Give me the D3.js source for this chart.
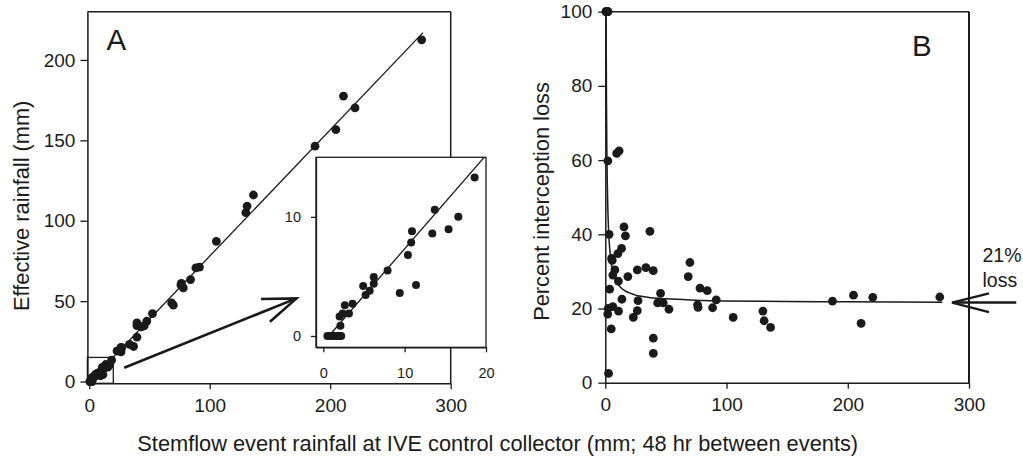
<!DOCTYPE html>
<html><head><meta charset="utf-8">
<script src="https://cdn.jsdelivr.net/npm/d3@7"></script>
<style>
html,body{margin:0;padding:0;background:#fff;}
svg{display:block;font-family:"Liberation Sans",Arial,Helvetica,sans-serif;}
</style></head>
<body><svg id="c" width="1023" height="458"></svg>
<script>
// ---- data (one entry per rain event) ----
const stemflow = [275.9,220.6,211.0,204.7,187.4,136.3,131.0,130.0,105.5,91.5,88.5,84.1,78.1,76.1,76.5,69.8,68.4,52.5,47.8,45.6,43.2,39.6,39.6,39.6,36.8,33.5,26.4,27.0,26.4,23.1,
  18.6,13.7,16.6,15.4,13.4,10.9,10.8,10.4,7.9,11.4,9.4,6.2,6.2,5.7,5.2,4.9,3.6,2.65,3.15,2.37,2.0,2.1,
  0.5,0.8,1.1,1.4,1.7,2.0,2.2];
const effective = [212.5,170.2,177.5,156.6,146.4,116.0,109.1,105.0,87.2,71.2,70.7,63.4,58.2,60.1,61.0,47.5,48.9,42.2,37.6,34.6,34.0,27.6,34.8,36.5,21.8,23.1,18.4,21.0,21.3,19.0,
  13.3,10.6,10.0,8.95,8.6,8.8,7.85,6.8,5.5,4.27,3.6,4.95,4.38,3.8,3.45,4.2,2.7,2.58,1.88,1.88,1.63,0.85,
  0,0,0,0,0,0,0];
const lossPct = [23.1,23.0,16.0,23.6,22.0,14.9,16.7,19.3,17.6,22.3,20.2,24.8,25.5,21.0,20.3,32.4,28.6,19.8,21.5,24.1,21.5,30.2,12.0,7.9,40.8,31.0,30.4,22.1,19.4,17.6,
  28.6,22.5,39.6,42.0,36.2,19.3,27.4,34.8,30.4,62.5,61.8,20.5,29.0,33.0,33.5,14.5,25.2,2.5,40.0,20.0,18.5,59.8,
  100,100,100,100,100,100,100];
// fitted regression line (panel A) and fitted loss curve (panel B)
const fitLineX = [0.68, 277];
const fitLineY = [0, 217];
const curveX = [0.68,0.8,1,1.3,1.6,2,2.5,3,4,5,6,8,10,13,16,20,25,30,40,50,70,100,150,200,278];
const curveY = [100,87.7,74.5,62.2,54.6,48,42.7,39.2,34.8,32.1,30.3,28.1,26.8,25.6,24.8,24.2,23.6,23.3,22.8,22.6,22.3,22.0,21.9,21.8,21.7];
// ticks
const aXTicks = [0,100,200,300], aYTicks = [0,50,100,150,200];
const inXTicks = [0,10,20], inYTicks = [0,10];
const bXTicks = [0,100,200,300], bYTicks = [0,20,40,60,80,100];
const xTitle = "Stemflow event rainfall at IVE control collector (mm; 48 hr between events)";
const aYTitle = "Effective rainfall (mm)";
const bYTitle = "Percent interception loss";

const svg = d3.select("#c");
const ink = "#1a1a1a";
const events = stemflow.map((x,i)=>({x, e:effective[i], p:lossPct[i]}));

function styleAxis(g, fs){
  g.select(".domain").attr("stroke", ink).attr("stroke-width", 1.5);
  g.selectAll(".tick line").attr("stroke", ink).attr("stroke-width", 1.3);
  g.selectAll(".tick text").attr("fill", ink).attr("font-size", fs).attr("font-family","Liberation Sans, Arial, sans-serif");
}

// ---------- Panel A ----------
const ax = d3.scaleLinear().domain([-1.5,300]).range([87.4,450.7]);
const ay = d3.scaleLinear().domain([-1.1,230]).range([383.3,11.7]);
const A = svg.append("g");
A.append("line").attr("x1",ax.range()[0]).attr("x2",ax.range()[1]).attr("y1",ay.range()[1]).attr("y2",ay.range()[1]).attr("stroke",ink).attr("stroke-width",1.5);
A.append("line").attr("x1",ax.range()[1]).attr("x2",ax.range()[1]).attr("y1",ay.range()[1]).attr("y2",ay.range()[0]).attr("stroke",ink).attr("stroke-width",1.5);
A.append("g").attr("transform",`translate(0,${ay.range()[0]})`)
  .call(d3.axisBottom(ax).tickValues(aXTicks).tickSize(6).tickSizeOuter(0).tickPadding(9)).call(g=>styleAxis(g,19));
A.append("g").attr("transform",`translate(${ax.range()[0]},0)`)
  .call(d3.axisLeft(ay).tickValues(aYTicks).tickSize(7).tickSizeOuter(0).tickPadding(5)).call(g=>styleAxis(g,19));
A.append("line").attr("x1",ax(fitLineX[0])).attr("y1",ay(fitLineY[0])).attr("x2",ax(fitLineX[1])).attr("y2",ay(fitLineY[1]))
  .attr("stroke",ink).attr("stroke-width",1.3);
A.append("g").selectAll("circle").data(events).join("circle")
  .attr("cx",d=>ax(d.x)).attr("cy",d=>ay(d.e)).attr("r",4.4).attr("fill",ink);
// zoom box
A.append("rect").attr("x",ax(-1.5)).attr("y",ay(15)).attr("width",ax(20)-ax(-1.5)).attr("height",ay(-1.1)-ay(15))
  .attr("fill","none").attr("stroke",ink).attr("stroke-width",1.3);
// arrow to inset
const arr = A.append("g").attr("stroke",ink).attr("stroke-width",2.6).attr("fill","none").attr("stroke-linecap","butt");
arr.append("line").attr("x1",ax(29)).attr("y1",ay(8.6)).attr("x2",ax(172)).attr("y2",ay(51.7));
arr.append("polyline").attr("points",[[ax(142.5),ay(51.3)],[ax(172),ay(51.7)],[ax(150),ay(37.2)]].map(p=>p.join(",")).join(" "));
A.append("text").attr("x",106.5).attr("y",50).attr("font-size",29.5).attr("fill",ink).text("A");

// ---------- Inset ----------
const ix = d3.scaleLinear().domain([-0.9,20]).range([316,486]);
const iy = d3.scaleLinear().domain([-0.95,15]).range([347.3,157.3]);
const I = svg.append("g");
I.append("rect").attr("x",316).attr("y",157.3).attr("width",ix.range()[1]-ix.range()[0]).attr("height",iy.range()[0]-iy.range()[1])
  .attr("fill","#fff").attr("stroke",ink).attr("stroke-width",1.3);
I.append("g").attr("transform",`translate(0,${iy.range()[0]})`)
  .call(d3.axisBottom(ix).tickValues(inXTicks).tickSize(5).tickSizeOuter(0).tickPadding(15)).call(g=>styleAxis(g,14.5));
I.append("g").attr("transform",`translate(${ix.range()[0]},0)`)
  .call(d3.axisLeft(iy).tickValues(inYTicks).tickSize(5).tickSizeOuter(0).tickPadding(10)).call(g=>styleAxis(g,14.5));
I.selectAll(".domain").attr("stroke-width",1.3);
svg.append("clipPath").attr("id","clipI").append("rect").attr("x",316).attr("y",157.3).attr("width",170).attr("height",190);
I.append("line").attr("clip-path","url(#clipI)").attr("x1",ix(fitLineX[0])).attr("y1",iy(fitLineY[0])).attr("x2",ix(fitLineX[1])).attr("y2",iy(fitLineY[1]))
  .attr("stroke",ink).attr("stroke-width",1.3);
I.append("g").selectAll("circle").data(events.filter(d=>d.x<=20)).join("circle")
  .attr("cx",d=>ix(d.x)).attr("cy",d=>iy(d.e)).attr("r",4.0).attr("fill",ink);

// ---------- Panel B ----------
const bx = d3.scaleLinear().domain([0,300]).range([605.3,969]);
const by = d3.scaleLinear().domain([0,100]).range([382.7,11.7]);
const B = svg.append("g");
B.append("line").attr("x1",bx.range()[0]).attr("x2",bx.range()[1]).attr("y1",by.range()[1]).attr("y2",by.range()[1]).attr("stroke",ink).attr("stroke-width",1.5);
B.append("line").attr("x1",bx.range()[1]).attr("x2",bx.range()[1]).attr("y1",by.range()[1]).attr("y2",by.range()[0]).attr("stroke",ink).attr("stroke-width",2);
B.append("g").attr("transform",`translate(0,${by.range()[0]})`)
  .call(d3.axisBottom(bx).tickValues(bXTicks).tickSize(6).tickSizeOuter(0).tickPadding(9)).call(g=>styleAxis(g,19));
B.append("g").attr("transform",`translate(${bx.range()[0]},0)`)
  .call(d3.axisLeft(by).tickValues(bYTicks).tickSize(7).tickSizeOuter(0).tickPadding(6)).call(g=>styleAxis(g,19));
B.append("path").datum(curveX.map((x,i)=>[x,curveY[i]]))
  .attr("d", d3.line().x(d=>bx(d[0])).y(d=>by(d[1])).curve(d3.curveMonotoneX))
  .attr("fill","none").attr("stroke",ink).attr("stroke-width",1.5);
B.append("g").selectAll("circle").data(events).join("circle")
  .attr("cx",d=>bx(d.x)).attr("cy",d=>by(d.p)).attr("r",4.4).attr("fill",ink);
const arrB = B.append("g").attr("stroke",ink).attr("stroke-width",2.4).attr("fill","none");
arrB.append("line").attr("x1",bx(286)).attr("y1",by(21.6)).attr("x2",bx(339)).attr("y2",by(21.6));
arrB.append("polyline").attr("points",[[bx(316.5),by(24.1)],[bx(286),by(21.6)],[bx(316.5),by(19.0)]].map(p=>p.join(",")).join(" "));
B.append("text").attr("x",982.5).attr("y",262.3).attr("font-size",19.5).attr("fill",ink).text("21%");
B.append("text").attr("x",982.5).attr("y",287.3).attr("font-size",19.5).attr("fill",ink).text("loss");
B.append("text").attr("x",912).attr("y",56).attr("font-size",29.5).attr("fill",ink).text("B");

// ---------- Titles ----------
svg.append("text").attr("x",497.7).attr("y",450.5).attr("text-anchor","middle").attr("font-size",21.8).attr("fill",ink).text(xTitle);
svg.append("text").attr("transform","translate(29.3,205.8) rotate(-90)").attr("text-anchor","middle").attr("font-size",21.8).attr("fill",ink).text(aYTitle);
svg.append("text").attr("transform","translate(549,201.5) rotate(-90)").attr("text-anchor","middle").attr("font-size",21.8).attr("fill",ink).text(bYTitle);
</script></body></html>
